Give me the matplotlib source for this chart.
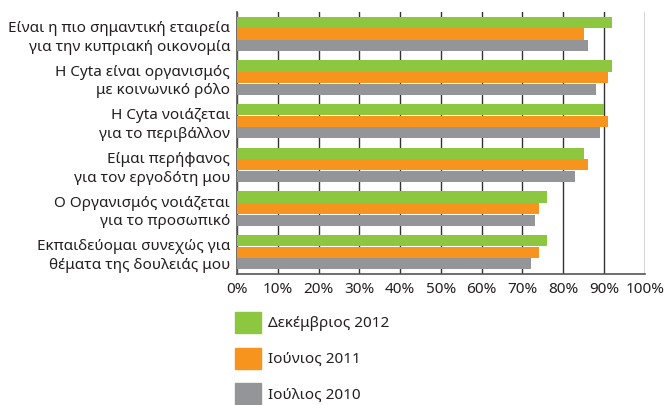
import numpy as np
import matplotlib
matplotlib.use('Agg')
import matplotlib.pyplot as plt
from matplotlib.patches import Patch

plt.rcParams['font.family'] = ['Noto Sans', 'DejaVu Sans']

# data (percent)
categories = ['Είναι η πιο σημαντική εταιρεία\nγια την κυπριακή οικονομία',
              'Η Cyta είναι οργανισμός\nμε κοινωνικό ρόλο',
              'Η Cyta νοιάζεται\nγια το περιβάλλον',
              'Είμαι περήφανος\nγια τον εργοδότη μου',
              'Ο Οργανισμός νοιάζεται\nγια το προσωπικό',
              'Εκπαιδεύομαι συνεχώς για\nθέματα της δουλειάς μου']
dec_2012 = [92, 92, 90, 85, 76, 76]
jun_2011 = [85, 91, 91, 86, 74, 74]
jul_2010 = [86, 88, 89, 83, 73, 72]
series_names = ['Δεκέμβριος 2012', 'Ιούνιος 2011', 'Ιούλιος 2010']
colors = ['#8DC63F', '#F7941E', '#939598']
txt = '#231f20'

fig = plt.figure(figsize=(6.66, 4.05), dpi=100)
ax = fig.add_axes([0.356, 0.3235, 0.612, 0.6465])

y = np.arange(len(categories))
h = 0.255
for i, vals in enumerate([dec_2012, jun_2011, jul_2010]):
    ax.barh(y + (i - 1) * (h + 0.01), vals, height=h, color=colors[i], zorder=3)

ax.set_ylim(len(categories) - 0.5, -0.5)
ax.set_xlim(0, 100)
ax.set_xticks(np.arange(0, 101, 10))
ax.set_xticklabels([f'{v}%' for v in range(0, 101, 10)])
ax.set_yticks(y)
ax.set_yticklabels(categories, ha='right', linespacing=1.35)
ax.tick_params(length=0, labelsize=11, colors=txt)
ax.tick_params(axis='y', pad=5)
ax.tick_params(axis='x', pad=6)
ax.grid(axis='x', color='#333333', linewidth=1.0, zorder=1)
for s in ['top', 'right']:
    ax.spines[s].set_visible(False)
for s in ['left', 'bottom']:
    ax.spines[s].set_color('#555555')
    ax.spines[s].set_linewidth(1.2)

handles = [Patch(color=c) for c in colors]
fig.legend(handles, series_names, loc='upper left', bbox_to_anchor=(0.343, 0.245),
           frameon=False, fontsize=11, handlelength=1.75, handleheight=1.75,
           labelspacing=0.95, handletextpad=0.45, borderaxespad=0, labelcolor=txt)

fig.savefig('out.png', dpi=100)
